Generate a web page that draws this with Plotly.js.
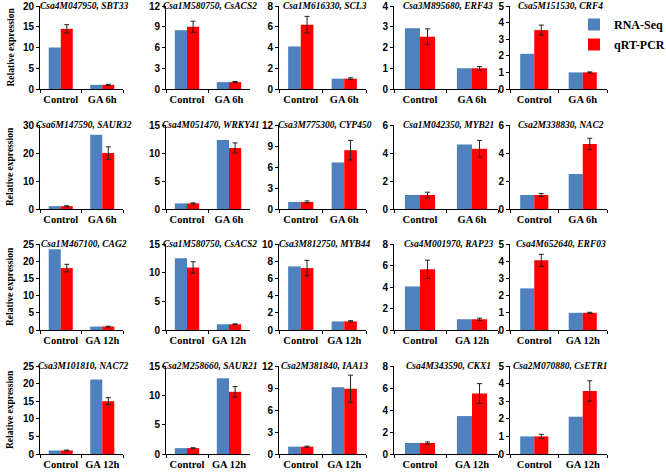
<!DOCTYPE html>
<html><head><meta charset="utf-8">
<script src="https://cdn.plot.ly/plotly-3.0.1.min.js"></script>
<style>html,body{margin:0;padding:0;background:#fff}#chart{width:666px;height:472px}</style>
</head><body><div id="chart"></div>
<script>
// ---- data ----
const geneIds = ['Csa4M047950','Csa1M580750','Csa1M616330','Csa3M895680','Csa5M151530',
  'Csa6M147590','Csa4M051470','Csa3M775300','Csa1M042350','Csa2M338830',
  'Csa1M467100','Csa1M580750','Csa3M812750','Csa4M001970','Csa4M652640',
  'Csa3M101810','Csa2M258660','Csa2M381840','Csa4M343590','Csa2M070880'];
const geneNames = ['SBT33','CsACS2','SCL3','ERF43','CRF4',
  'SAUR32','WRKY41','CYP450','MYB21','NAC2',
  'CAG2','CsACS2','MYB44','RAP23','ERF03',
  'NAC72','SAUR21','IAA13','CKX1','CsETR1'];
const controlLabel = 'Control';
const treatLabels = ['GA 6h','GA 6h','GA 6h','GA 6h','GA 6h','GA 6h','GA 6h','GA 6h','GA 6h','GA 6h',
  'GA 12h','GA 12h','GA 12h','GA 12h','GA 12h','GA 12h','GA 12h','GA 12h','GA 12h','GA 12h'];
const rnaControl = [10, 8.5, 4.1, 2.93, 2.12, 1, 1, 1, 1, 1, 23.5, 12.5, 7.4, 4.05, 2.42, 1, 1, 1, 1, 1];
const rnaTreat   = [1, 1, 1, 1, 1, 26.5, 12.3, 6.65, 4.6, 2.5, 1, 1, 1, 1, 1, 21.2, 12.9, 9.1, 3.45, 2.12];
const qrtControl = [14.5, 9.0, 6.2, 2.52, 3.55, 1, 1, 1, 1, 1, 18.0, 10.9, 7.2, 5.65, 4.05, 1, 1, 1, 1, 1];
const qrtControlErr = [1.0, 0.8, 0.8, 0.38, 0.3, 0.15, 0.1, 0.15, 0.2, 0.1, 1.1, 1.0, 0.9, 0.85, 0.35, 0.12, 0.08, 0.08, 0.1, 0.12];
const qrtTreat   = [1, 1, 1, 1, 1, 20.0, 10.9, 8.4, 4.3, 4.65, 1, 1, 1, 1, 1, 15.0, 10.6, 8.9, 5.5, 3.58];
const qrtTreatErr = [0.12, 0.08, 0.08, 0.08, 0.03, 2.2, 0.9, 1.4, 0.6, 0.4, 0.1, 0.08, 0.08, 0.1, 0.03, 1.0, 0.9, 1.85, 0.9, 0.58];
const yMax  = [20, 12, 8, 4, 5, 30, 15, 12, 6, 6, 25, 15, 10, 8, 5, 25, 15, 12, 8, 5];
const yStep = [5, 3, 2, 1, 1, 10, 5, 3, 2, 2, 5, 5, 2, 2, 1, 5, 5, 3, 2, 1];
const seriesNames = ['RNA-Seq', 'qRT-PCR'];
const yTitle = 'Relative expression';

// ---- layout geometry (px) ----
const W = 666, H = 472;
const colX = [[40,123],[166,250],[279,366],[394,498],[510,607]];
const rowY = [[6,89],[125,209],[244,330],[366,454]];
const BLUE = '#4F81BD', RED = '#FF0000';
const serif = 'Liberation Serif, Times New Roman, serif';
const sans = 'Liberation Sans, Arial, sans-serif';

const data = [];
const layout = {
  width: W, height: H, margin: {l:0, r:0, t:0, b:0, autoexpand: false},
  paper_bgcolor: '#fff', plot_bgcolor: '#fff',
  barmode: 'group', bargap: 0.42, bargroupgap: 0,
  showlegend: true,
  legend: {x: 574/W, y: 1 - 10/H, xanchor: 'left', yanchor: 'top',
    font: {family: serif, size: 12, color: '#000', weight: 'bold'},
    bgcolor: 'rgba(0,0,0,0)', tracegroupgap: 1, itemwidth: 30},
  annotations: []
};

for (let i = 0; i < 20; i++) {
  const r = Math.floor(i / 5), c = i % 5, k = i + 1;
  const xs = k === 1 ? '' : String(k);
  const cats = [controlLabel, treatLabels[i]];
  data.push({type: 'bar', x: cats, y: [rnaControl[i], rnaTreat[i]],
    xaxis: 'x' + xs, yaxis: 'y' + xs, name: seriesNames[0],
    marker: {color: BLUE, line: {width: 0}}, showlegend: i === 0, legendgroup: 'a', hoverinfo: 'skip'});
  data.push({type: 'bar', x: cats, y: [qrtControl[i], qrtTreat[i]],
    xaxis: 'x' + xs, yaxis: 'y' + xs, name: seriesNames[1],
    marker: {color: RED, line: {width: 0}}, showlegend: i === 0, legendgroup: 'b', hoverinfo: 'skip',
    error_y: {type: 'data', array: [qrtControlErr[i], qrtTreatErr[i]], visible: true,
      color: '#222', thickness: 1, width: 2.5}});
  const [x0, x1] = colX[c], [yt, yb] = rowY[r];
  layout['xaxis' + xs] = {domain: [x0 / W, x1 / W], anchor: 'y' + xs, type: 'category',
    tickson: 'boundaries', ticks: 'outside', ticklen: 3, tickcolor: '#000', tickangle: 0,
    showline: true, linecolor: '#000', linewidth: 1, showgrid: false, zeroline: false,
    tickfont: {family: serif, size: 10.5, color: '#000', weight: 'bold'}, fixedrange: true};
  layout['yaxis' + xs] = {domain: [1 - yb / H, 1 - yt / H], anchor: 'x' + xs,
    range: [0, yMax[i]], tick0: 0, dtick: yStep[i], ticks: 'outside', ticklen: 3, tickcolor: '#000',
    showline: true, linecolor: '#000', linewidth: 1, showgrid: false, zeroline: false,
    tickfont: {family: sans, size: 10, color: '#000', weight: 'bold'}, fixedrange: true};
  layout.annotations.push({xref: 'paper', yref: 'paper', x: (x0 + x1) / 2 / W + 2 / W, y: 1 - yt / H,
    xanchor: 'center', yanchor: 'middle', showarrow: false,
    text: geneIds[i] + ', ' + geneNames[i],
    font: {family: serif, size: 9.5, color: '#000', weight: 'bold', style: 'italic'}});
  if (c === 0) {
    layout.annotations.push({xref: 'paper', yref: 'paper', x: 10 / W, y: 1 - (yt + yb) / 2 / H,
      xanchor: 'center', yanchor: 'middle', showarrow: false, textangle: -90,
      text: yTitle, font: {family: serif, size: 9.5, color: '#000', weight: 'bold'}});
  }
}
Plotly.newPlot('chart', data, layout, {staticPlot: true, displayModeBar: false});
</script></body></html>
